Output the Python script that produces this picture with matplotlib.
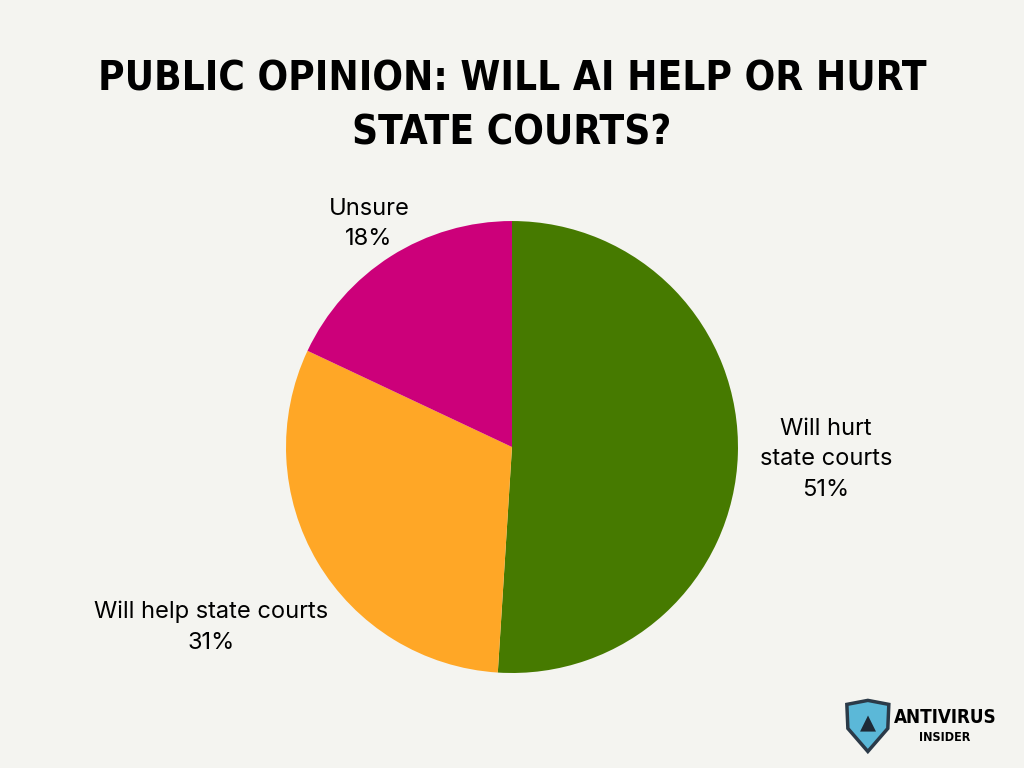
import numpy as np
import matplotlib.pyplot as plt
from matplotlib.patches import Polygon

labels = ["Will hurt\nstate courts", "Will help state courts", "Unsure"]
shares = [51, 31, 18]
colors = ["#467A00", "#FFA726", "#CC007A"]
label_dist = [1.39, 1.545, 1.18]

bg = "#F4F4F0"
fig = plt.figure(figsize=(10.24, 7.68), dpi=100, facecolor=bg)

title_kw = dict(ha="center", va="center", fontsize=29, fontweight="bold",
                family="DejaVu Sans", fontstretch="condensed", color="black")
fig.text(0.5, 0.897, "PUBLIC OPINION: WILL AI HELP OR HURT", **title_kw)
fig.text(0.5, 0.826, "STATE COURTS?", **title_kw)

ax = fig.add_axes([0.2793, 0.1237, 0.4414, 0.5885])
ax.set_facecolor(bg)
wedges, _ = ax.pie(shares, colors=colors, startangle=90, counterclock=False, radius=1)
ax.set_xlim(-1, 1)
ax.set_ylim(-1, 1)
ax.set_aspect("equal")
ax.axis("off")

for w, lab, s, d in zip(wedges, labels, shares, label_dist):
    ang = np.deg2rad((w.theta1 + w.theta2) / 2)
    ax.text(d * np.cos(ang), d * np.sin(ang) - 0.01, f"{lab}\n{s}%", ha="center", va="center",
            fontsize=17, family="Inter", linespacing=1.5, clip_on=False)

# logo
lax = fig.add_axes([0.82, 0.015, 0.17, 0.09])
lax.set_xlim(0, 170)
lax.set_ylim(0, 69)
lax.axis("off")
shield = Polygon([(7, 52), (27.5, 56), (48, 52), (47, 28), (27.5, 5), (8, 28)],
                 closed=True, facecolor="#5BB8D8", edgecolor="#2B3A48", lw=2.5)
lax.add_patch(shield)
lax.text(27.5, 33, "▲", ha="center", va="center", fontsize=15, color="#1E2A36")
lax.text(103, 38.5, "ANTIVIRUS", ha="center", va="center", fontsize=13.5,
         fontweight="bold", fontstretch="condensed", color="black")
lax.text(103, 18.5, "INSIDER", ha="center", va="center", fontsize=9,
         fontweight="bold", fontstretch="condensed", color="black")

fig.savefig("out.png", dpi=100, facecolor=bg)
